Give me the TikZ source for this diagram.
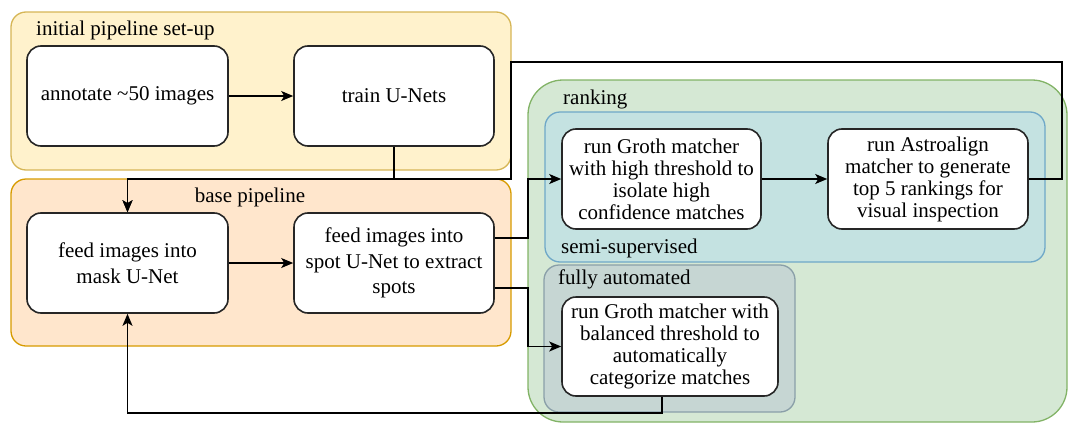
\documentclass[tikz,border=0pt]{standalone}
\usepackage{fontspec}
\setmainfont{Liberation Serif}
\usetikzlibrary{arrows.meta}

\definecolor{yellowfill}{HTML}{FFF2CC}
\definecolor{yellowline}{HTML}{D6B656}
\definecolor{orangefill}{HTML}{FFE6CC}
\definecolor{orangeline}{HTML}{D79B00}
\definecolor{greenfill}{HTML}{D5E8D4}
\definecolor{greenline}{HTML}{82B366}
\definecolor{bluefill}{HTML}{C4E2E1}
\definecolor{blueline}{HTML}{6FA8C8}
\definecolor{grayfill}{HTML}{C6D6D3}
\definecolor{grayline}{HTML}{8A9FA8}

\begin{document}
\begin{tikzpicture}[x=1pt,y=-1pt,
	font=\fontsize{21}{25.5}\selectfont,
	group/.style={draw, line width=1.3pt, rounded corners=15pt, inner sep=0pt},
	stepbox/.style={draw=black!85, fill=white, line width=1.6pt, rounded corners=14pt,
		minimum width=200pt, minimum height=100pt, align=center, inner sep=2pt},
	tight/.style={font=\fontsize{21}{22}\selectfont},
	flow/.style={line width=1.4pt, -{Stealth[length=12pt,width=10pt,inset=3pt]}},
	grplabel/.style={anchor=west, inner sep=0pt}]
	\useasboundingbox (0,0) rectangle (1068,423);
	
	% groups
	\node[group, draw=yellowline, fill=yellowfill, minimum width=500pt, minimum height=158pt] (initgrp) at (261,91) {};
	\node[group, draw=orangeline, fill=orangefill, minimum width=500pt, minimum height=167pt] (basegrp) at (261,262.5) {};
	\node[group, draw=greenline, fill=greenfill, rounded corners=35pt, minimum width=539pt, minimum height=342pt] (rankgrp) at (797.5,251) {};
	\node[group, draw=blueline, fill=bluefill, minimum width=500pt, minimum height=150pt] (semigrp) at (795,187) {};
	\node[group, draw=grayline, fill=grayfill, minimum width=251pt, minimum height=147pt] (autogrp) at (669.5,338.5) {};
	
	\node[grplabel] (initlbl) at (36,30) {initial pipeline set-up};
	\node[inner sep=0pt] (baselbl) at (250,197) {base pipeline};
	\node[grplabel] (ranklbl) at (563,99) {ranking};
	\node[grplabel] (semilbl) at (561,248) {semi-supervised};
	\node[grplabel] (autolbl) at (558,279) {fully automated};
	
	% steps
	\node[stepbox, minimum width=201pt] (annot) at (127.5,96) {annotate \textasciitilde50 images};
	\node[stepbox] (train) at (394,96) {train U-Nets};
	
	\node[stepbox, minimum width=201pt] (mask) at (127.5,263) {feed images into\\mask U-Net};
	\node[stepbox] (spot) at (394,263) {feed images into\\spot U-Net to extract\\spots};
	
	\node[stepbox, tight, minimum width=199pt] (groth) at (661.5,179) {run Groth matcher\\with high threshold to\\isolate high\\confidence matches};
	\node[stepbox, tight] (astro) at (928,179) {run Astroalign\\matcher to generate\\top 5 rankings for\\visual inspection};
	\node[stepbox, tight, minimum width=216pt, minimum height=99pt] (balanced) at (670,346.5) {run Groth matcher with\\balanced threshold to\\automatically\\categorize matches};
	
	\coordinate (join) at (127.5,179);
	\coordinate (topright) at (1062,62);
	\coordinate (topleft) at (511,62);
	\coordinate (loopbot) at (127.5,413);
	
	\draw[flow] (annot) -- (train);
	\draw[flow] (train.south) |- (join) -- (mask.north);
	\draw[flow] (mask) -- (spot);
	\draw[flow] ([yshift=25pt]spot.east) -- ++(33,0) |- (groth.west);
	\draw[flow] ([yshift=-25pt]spot.east) -- ++(33,0) |- (balanced.west);
	\draw[flow] (groth) -- (astro);
	\draw[flow] (astro.east) -| (topright) -- (topleft) |- (join) -- (mask.north);
	\draw[flow] ([xshift=-8pt]balanced.south) |- (loopbot) -- (mask.south);
	%\draw[flow] (balanced.east) -- (astro.south);
\end{tikzpicture}
\end{document}
